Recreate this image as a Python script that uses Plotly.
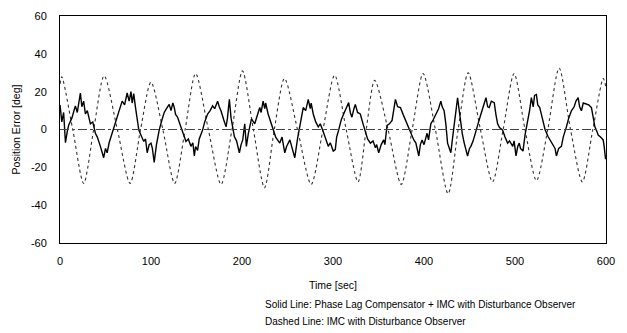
import plotly.graph_objects as go

# Solid line: Phase Lag Compensator + IMC with Disturbance Observer
solid_t = [0, 2, 4, 6, 8, 9.5, 13, 16.9, 19, 22.4, 24, 26, 27.9, 30, 33.4, 36, 38.9, 41, 44.4, 46, 48, 50, 51.8,
           54, 57.3, 60, 62.8, 65, 68.3, 71, 73.8, 76, 78, 79.3, 81, 83, 86.6, 89, 92.1, 94, 95.8, 98, 100, 101.5,
           103.5, 106, 109, 112, 114.5, 117, 120, 122, 124, 125.6, 127, 129.2, 132.9, 135, 138.4, 141, 143.9, 146,
           147.6, 149, 151.2, 153, 156.7, 159, 162.2, 165, 167.7, 170, 173.2, 175, 176.9, 180, 182.5, 184, 186.1,
           188, 191.6, 194, 197.1, 199, 200.8, 203, 204.8, 207, 210.4, 214, 217, 219.5, 221, 223.2, 225, 226,
           228.7, 231, 234.3, 237, 241.5, 244, 247, 249, 252.6, 255, 258, 261, 263.5, 265, 267.3, 270, 272.8, 275,
           276, 278.3, 281, 283.8, 286, 289.3, 292, 294.8, 297, 300.3, 302.5, 304, 306.2, 309, 311.7, 314, 317.2,
           319, 320.8, 323, 324.5, 327, 330, 333, 335.6, 338, 341.1, 344, 346.6, 348, 350.2, 353, 355.7, 357,
           359.4, 362, 364.9, 367, 368.6, 371, 374.1, 377, 379.6, 382, 385.1, 388.8, 391, 394.3, 396, 397.9, 400,
           403.4, 405, 407.5, 410, 413, 416, 418.5, 420, 422.1, 424, 425.9, 429.5, 431, 433.2, 435, 436.9, 439,
           440.5, 442, 444.2, 446, 447.9, 450, 451.5, 454, 457, 460, 462.6, 465, 468.1, 470, 471.7, 474, 477.2,
           479, 480.9, 483, 486.4, 489, 491.9, 494, 497.5, 499, 501.1, 503, 504.7, 506, 508.8, 511, 514.3, 516,
           518, 520, 521.5, 523.5, 525, 527.2, 529, 530.8, 533, 536.3, 539, 541.9, 544, 545.5, 548, 551, 553,
           556.5, 559, 562, 565, 567, 569.4, 571, 573, 575, 578.5, 581, 584, 586, 587.8, 590, 591.4, 594, 596.9,
           598, 599.5]
solid_v = [13, 4, 9, -7, -1, 2.2, 6, 12.5, 9, 19.3, 12, 15, 8.2, 10, 3, 4, -2, -4, -8.9, -12, -14.9, -10, -12.3,
           -7, -2, 2, 6.5, 9, 15, 13, 19.3, 15, 20, 14, 19, 11.6, -0.3, -3, -6.3, -5, -12.3, -8, -7.2, -10,
           -17.4, -8, -0.3, 5, 9, 11, 13.3, 10, 14, 11.6, 8, 6.5, 1.4, -2, -6.3, -5, -8.9, -7,
           -14, -9, -11, -5, -0.3, 4, 8.2, 10, 12.5, 11, 15, 12, 9.9, 5, 1.4, 6, 15.9,
           6, -3.7, -6, -12.3, -8, -5.5, 3, -8.9, -2, 5.6, 3, 8, 11.6, 9, 15, 11, 14,
           8.2, 5, -0.3, -4, -7.2, -4, -12.3, -9, -5.5, -10, -14.9, -5, 1.4, 5, 11.6, 10, 15.9, 11,
           14, 8.2, 4, 1.4, 3, -1.2, -5, -8.9, -7, -11.4, -10.6, -4, -0.3, 5, 8.2, 11, 14.2,
           9, 6.5, 11, 13.3, 9, 8.2, 3, -2, -5, -7.2, -6, -9.7, -8, -12.3, -8, -5.5, -8,
           2.2, 3, 4.8, 10, 15.9, 12, 11.6, 8, 4.8, 2, -2, -5.5, -7, -14, -8, -5.5, -8,
           -2, -5.5, 3, 5, 8.2, 11, 15, 12, 9.9, 3, -7.2, -12.3, -6, 3, 10, 16.8, 9,
           3, -2, -7.2, -10, -14, -10, -8.9, -6, -0.3, 4, 8.2, 12, 16.8, 12, 11.6, 15, 14.2,
           8, 3, 1, -0.3, -4, -7.2, -6, -8.9, -6, -14, -9, -7.2, -10, -11.4, -3, 4.8, 10,
           16.8, 12, 18, 18.5, 13, 11.6, 8, 4.8, 0, -3.7, -6, -8.9, -10, -14, -10, -8.9, -4,
           1.4, 6, 9.9, 12, 15, 16.8, 12, 9.9, 14, 13.3, 13, 11.6, 6, 1.4, -1, -2.9, -4, -5.5,
           -9, -15.7]

# Dashed line: IMC with Disturbance Observer
dashed_t = [0, 2, 14, 26, 37, 48.5, 63, 77, 88.5, 100, 113, 126, 137.5, 149, 163, 177, 189, 200.5, 212.5,
            224.7, 235.5, 246.7, 261, 276, 289, 301.8, 314.5, 327.5, 336.5, 345.8, 360.5, 375, 387, 399,
            412.5, 426.5, 437.5, 448.5, 462, 475.3, 487, 499, 511, 523.6, 536, 548.5, 561, 574, 585.5,
            597, 600]
dashed_v = [24, 27.8, 0, -28.5, 0, 28.4, 0, -28.5, 0, 25, 0, -28.5, 0, 29.6, 0, -29, 0, 31, 0,
            -30.8, 0, 27, 0, -29, 0, 28.7, 0, -27.7, 0, 26, 0, -29, 0, 29.6,
            0, -34, 0, 30, 0, -27.7, 0, 29.6, 0, -27, 0, 32.5, 0, -27.7, 0,
            27, 22]

x_ticks = [0, 100, 200, 300, 400, 500, 600]
y_ticks = [-60, -40, -20, 0, 20, 40, 60]
y_tick_text = ["-60", "-40", "-20", "0", "20", "40", "60"]

FONT = "Liberation Sans, Arial, sans-serif"

fig = go.Figure()
fig.add_trace(go.Scatter(x=dashed_t, y=dashed_v, mode="lines",
                         line=dict(color="#333333", width=1.1, dash="dot", shape="spline", smoothing=0.8),
                         showlegend=False))
fig.add_trace(go.Scatter(x=solid_t, y=solid_v, mode="lines",
                         line=dict(color="#000000", width=1.4),
                         showlegend=False))
fig.add_hline(y=0, line=dict(color="#444444", width=1, dash="dashdot"))

fig.update_layout(
    width=627, height=333,
    margin=dict(l=60, r=21, t=10, b=90),
    paper_bgcolor="white", plot_bgcolor="white",
    font=dict(family=FONT, size=11, color="black"),
    xaxis=dict(range=[0, 600], tickvals=x_ticks, ticks="", showgrid=False, zeroline=False,
               showline=True, linecolor="black", linewidth=1, mirror=True, ticklabelstandoff=8,
               title=dict(text="Time [sec]", font=dict(size=10.5), standoff=15)),
    yaxis=dict(range=[-60, 60], tickvals=y_ticks, ticktext=y_tick_text, ticks="", showgrid=False,
               zeroline=False, showline=True, linecolor="black", linewidth=1, mirror=True,
               ticklabelstandoff=10,
               title=dict(text="Position Error [deg]", font=dict(size=10.5), standoff=8)),
)
fig.add_annotation(text="Solid Line: Phase Lag Compensator + IMC with Disturbance Observer",
                   xref="paper", yref="paper", x=0.372, y=-0.272, xanchor="left", yanchor="middle",
                   showarrow=False, font=dict(size=10))
fig.add_annotation(text="Dashed Line: IMC with Disturbance Observer",
                   xref="paper", yref="paper", x=0.372, y=-0.345, xanchor="left", yanchor="middle",
                   showarrow=False, font=dict(size=10))

fig.write_html("out.html")
